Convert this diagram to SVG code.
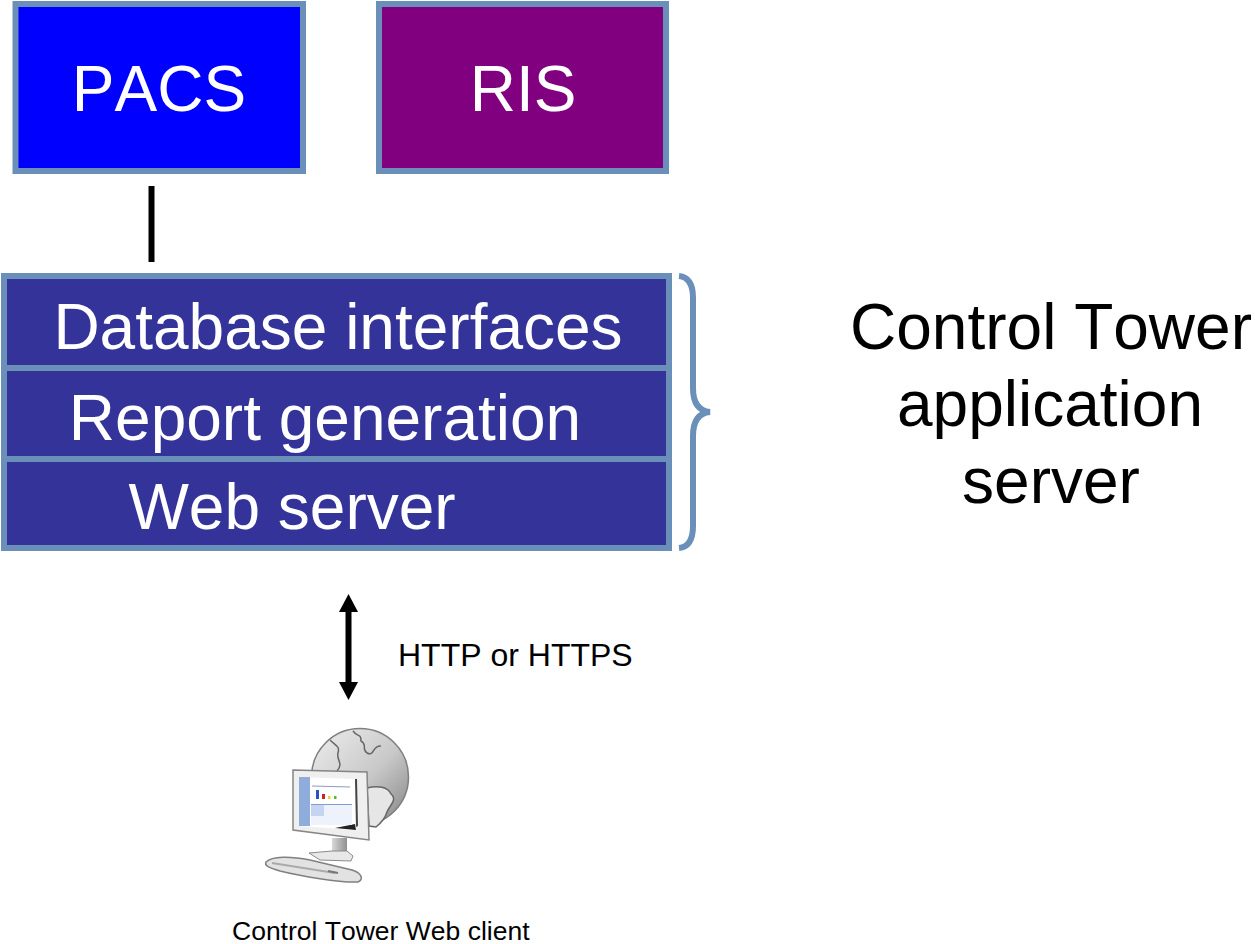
<svg xmlns="http://www.w3.org/2000/svg" width="1255" height="944" viewBox="0 0 1255 944">
<style>
.box{stroke:#6a8fb9;stroke-width:6}
.t{font-family:"Liberation Sans",Arial,sans-serif;font-kerning:none}
.w{fill:#fff;text-anchor:middle}
.lg{font-size:64px}
.big{fill:#000;text-anchor:middle;font-size:64px}
.sm{fill:#000;font-size:32px}
.xs{fill:#000;font-size:26.500px}
</style>
<defs>
<filter id="soft" x="-5%" y="-5%" width="110%" height="110%"><feGaussianBlur stdDeviation="0.6"/></filter>
<linearGradient id="globe" x1="0" y1="0" x2="1" y2="1"><stop offset="0" stop-color="#eeeeee"/><stop offset="0.55" stop-color="#c8c8c8"/><stop offset="1" stop-color="#828282"/></linearGradient>
<linearGradient id="stand" x1="0" y1="0" x2="1" y2="0"><stop offset="0" stop-color="#d8d8d8"/><stop offset="1" stop-color="#8f8f8f"/></linearGradient>
</defs>
<rect width="1255" height="944" fill="#fff"/>
<g id="connectors">
<line x1="151.500" y1="186" x2="151.500" y2="262" stroke="#000" stroke-width="6"/>
<line x1="348.500" y1="610" x2="348.500" y2="684" stroke="#000" stroke-width="6"/>
<polygon points="348.500,594 358,612 339,612" fill="#000"/>
<polygon points="348.500,700 358,682 339,682" fill="#000"/>
</g>
<g id="pacs">
<rect class="box" x="15.500" y="4" width="287.500" height="167" fill="#0000ff"/>
<text class="t w lg" x="159" y="111">PACS</text>
</g>
<g id="ris">
<rect class="box" x="379" y="4" width="287" height="167" fill="#800080"/>
<text class="t w lg" x="523" y="111">RIS</text>
</g>
<g id="database-interfaces">
<rect class="box" x="4" y="276" width="665" height="92" fill="#333399"/>
<text class="t w lg" x="338" y="349">Database interfaces</text>
</g>
<g id="report-generation">
<rect class="box" x="4" y="368" width="665" height="91" fill="#333399"/>
<text class="t w lg" x="325" y="440">Report generation</text>
</g>
<g id="web-server">
<rect class="box" x="4" y="459" width="665" height="89" fill="#333399"/>
<text class="t w lg" x="292" y="529">Web server</text>
</g>
<g id="brace">
<path d="M679,276 C689,277 693,285 693,298 L693,388 C693,403 699,411 710,412 C699,413 693,421 693,436 L693,526 C693,539 689,547 679,548" fill="none" stroke="#6a8fb9" stroke-width="6"/>
</g>
<g id="server-label">
<text class="t big" x="1051" y="349">Control Tower</text>
<text class="t big" x="1050" y="426">application</text>
<text class="t big" x="1051" y="503">server</text>
</g>
<g id="protocol-label">
<text class="t sm" x="398" y="666">HTTP or HTTPS</text>
</g>
<g id="web-client">
<g filter="url(#soft)">
<circle cx="360" cy="777" r="48.500" fill="url(#globe)" stroke="#7f7f7f" stroke-width="1.500"/>
<path d="M330,740 C336,746 340,746 338,753 C336,760 344,763 337,771 M353,731 C358,738 361,733 361,741 C368,745 361,749 367,753 C375,757 372,745 381,746" fill="none" stroke="#666" stroke-width="1.500"/>
<path d="M367,788 C378,785 388,787 391,794 C398,800 389,806 387,812 C385,819 381,823 376,827 L369,826 Z" fill="#e6e6e6" stroke="#666" stroke-width="1.500"/>
<polygon points="293,770 367,772 369,840 293,830" fill="#efefef" stroke="#858585" stroke-width="1.500"/>
<polygon points="299,777 355,779 356,830 299,826" fill="#ffffff"/>
<polygon points="299,777 310,777 310,826 299,826" fill="#8facdc"/>
<polygon points="335,828 355,824 356,830" fill="#222"/>
<polygon points="355,779 357,779 358,826 356,827" fill="#444"/>
<rect x="311" y="804" width="41" height="1.500" fill="#7f9fd4"/>
<rect x="311" y="805" width="41" height="20" fill="#eef2fa"/>
<rect x="311" y="805" width="13" height="11" fill="#c5d4f0"/>
<line x1="312" y1="786" x2="350" y2="787" stroke="#8a9cc0"/>
<rect x="316" y="790" width="3" height="9" fill="#2a52c0"/>
<rect x="322" y="794" width="3" height="5" fill="#d02020"/>
<rect x="328" y="796" width="2.500" height="3" fill="#e8d820"/>
<rect x="334" y="796" width="2.500" height="3" fill="#50c030"/>
<rect x="332" y="838" width="15" height="16" fill="url(#stand)"/>
<path d="M309,853 L332,851 L347,851 L353,856 L351,861 L320,860 Z" fill="#e8e8e8" stroke="#8a8a8a"/>
<path d="M266,862 C272,856 290,856 310,860 L352,870 C362,873 364,880 358,882 C340,883 300,876 280,871 C270,868 264,866 266,862 Z" fill="#e2e2e2" stroke="#808080" stroke-width="1.500"/>
<path d="M272,863 L335,873" stroke="#aaa" stroke-width="2" fill="none"/>
<path d="M328,871 L338,873" stroke="#777" stroke-width="2" fill="none"/>
</g>
<text class="t xs" x="232" y="940">Control Tower Web client</text>
</g>
</svg>
